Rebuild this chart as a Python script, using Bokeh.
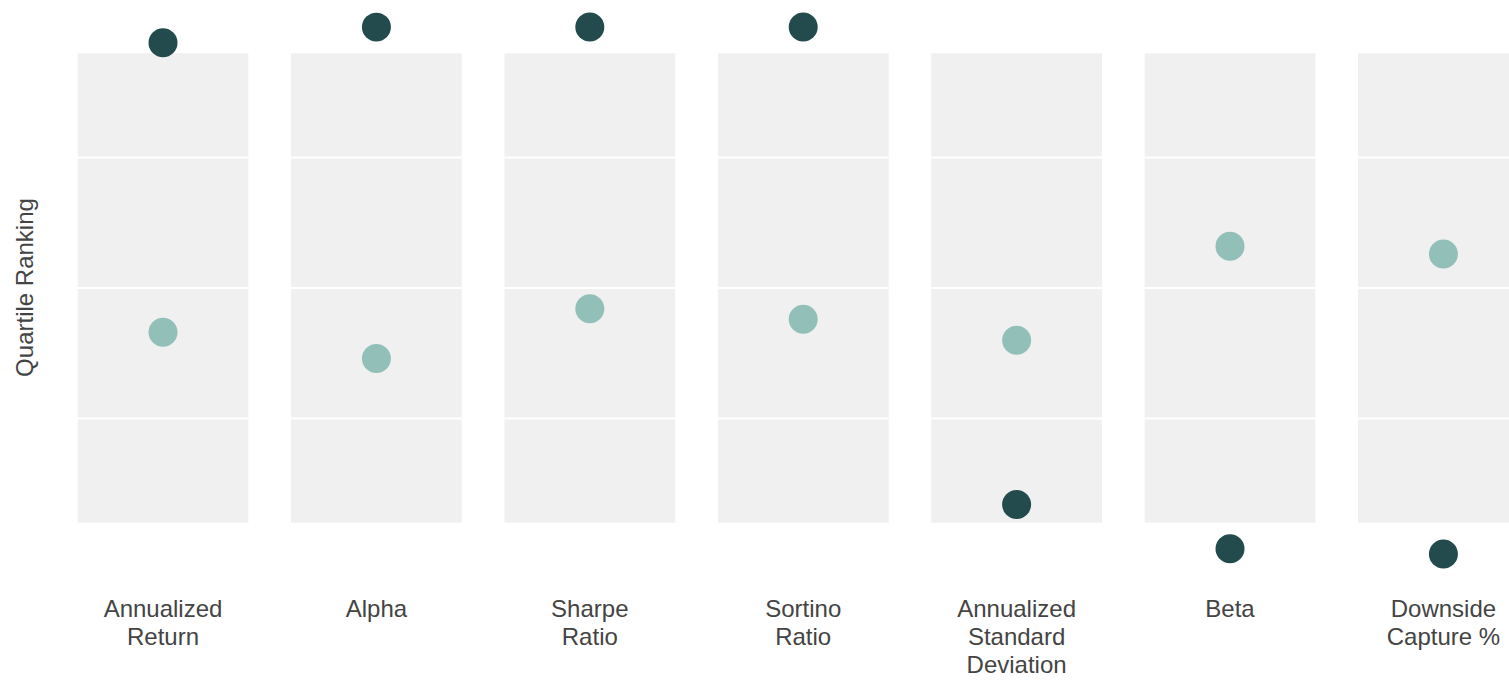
from bokeh.plotting import figure
from bokeh.models import Range1d, FixedTicker, ColumnDataSource
from bokeh.embed import file_html
from bokeh.resources import INLINE

# ---- data ----
categories = ["Annualized Return", "Alpha", "Sharpe Ratio", "Sortino Ratio",
              "Annualized Standard Deviation", "Beta", "Downside Capture %"]
category_labels = ["Annualized\nReturn", "Alpha", "Sharpe\nRatio", "Sortino\nRatio",
                   "Annualized\nStandard\nDeviation", "Beta", "Downside\nCapture %"]
fund_rank = [3, 0, 0, 0, 91.5, 100, 101]
peer_rank = [58.5, 63.5, 54, 56, 60, 42, 43.5]
band_low = 5
band_high = 95
quartile_cuts = [25, 50, 75]

# ---- styles ----
FONT = "Liberation Sans"
TEXT_COLOR = "#444444"
BAND_COLOR = "#f0f0f0"
DARK = "#234a4c"
LIGHT = "#93bfb9"

idx = list(range(len(categories)))

p = figure(width=1509, height=680, output_backend="svg", toolbar_location=None,
           x_range=Range1d(-0.4991, 6.3097), y_range=Range1d(104.92, -5.10),
           min_border_left=56, min_border_right=0, min_border_top=0, min_border_bottom=0)

band_src = ColumnDataSource(dict(x=idx, top=[band_high] * len(idx), bottom=[band_low] * len(idx)))
p.vbar(x="x", top="top", bottom="bottom", width=0.8, source=band_src,
       fill_color=BAND_COLOR, line_color=None)

sx0, sx1, sy = [], [], []
for i in idx:
    for q in quartile_cuts:
        sx0.append(i - 0.4)
        sx1.append(i + 0.4)
        sy.append(q)
p.segment(x0=sx0, x1=sx1, y0=sy, y1=sy, line_color="white", line_width=2)

p.scatter(x=idx, y=peer_rank, size=29, fill_color=LIGHT, line_color=None)
p.scatter(x=idx, y=fund_rank, size=29, fill_color=DARK, line_color=None)

# x axis
xa = p.xaxis[0]
xa.ticker = FixedTicker(ticks=idx)
xa.major_label_overrides = {i: lab for i, lab in zip(idx, category_labels)}
xa.axis_line_color = None
xa.major_tick_line_color = None
xa.minor_tick_line_color = None
xa.major_tick_out = 0
xa.major_label_standoff = 20
xa.major_label_text_font = FONT
xa.major_label_text_font_size = "24px"
xa.major_label_text_color = TEXT_COLOR
xa.major_label_text_line_height = 1.04

# y axis
ya = p.yaxis[0]
ya.ticker = FixedTicker(ticks=[])
ya.axis_label = "Quartile Ranking"
ya.axis_label_text_font = FONT
ya.axis_label_text_font_size = "24px"
ya.axis_label_text_font_style = "normal"
ya.axis_label_text_color = TEXT_COLOR
ya.axis_label_standoff = 19
ya.axis_line_color = None
ya.major_tick_line_color = None
ya.minor_tick_line_color = None
ya.major_tick_out = 0

p.xgrid.visible = False
p.ygrid.visible = False
p.outline_line_color = None
p.background_fill_color = "white"
p.border_fill_color = "white"

open("out.html", "w").write(file_html(p, INLINE))
